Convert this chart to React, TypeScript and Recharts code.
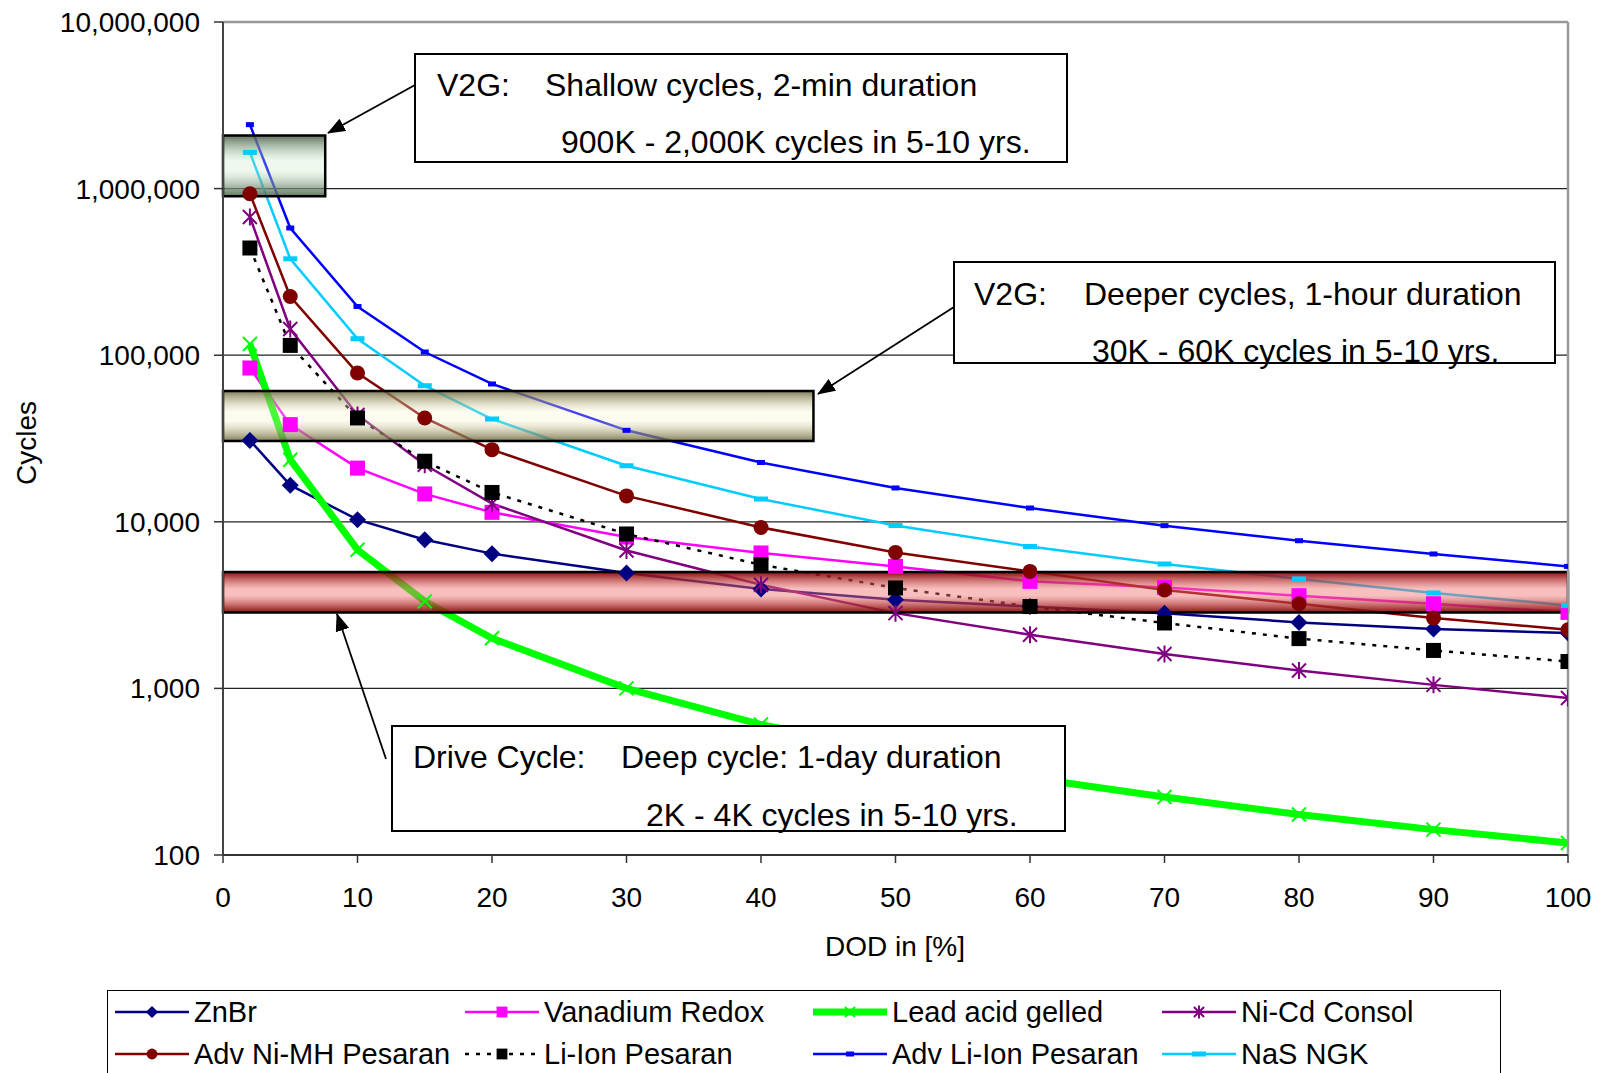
import React from 'react';
import { LineChart, Line, XAxis, YAxis, CartesianGrid, ReferenceArea } from 'recharts';

const FONT = '"Liberation Sans", Arial, Helvetica, sans-serif';

// depth of discharge in %
const dod = [2, 5, 10, 15, 20, 30, 40, 50, 60, 70, 80, 90, 100];

// cycles to end of life per DOD point
const znBr = [30800, 16600, 10300, 7800, 6440, 4930, 3950, 3410, 3100, 2830, 2490, 2270, 2150];
const vanadiumRedox = [83800, 38300, 21000, 14700, 11400, 8100, 6500, 5400, 4390, 4040, 3600, 3220, 2860];
const leadAcidGelled = [116700, 23600, 6800, 3330, 2000, 1000, 607, 420, 291, 223, 175, 142, 118];
const niCdConsol = [676000, 143600, 43800, 22000, 12850, 6730, 4190, 2830, 2100, 1610, 1280, 1050, 875];
const advNiMhPesaran = [931000, 225000, 78200, 42000, 27100, 14300, 9250, 6550, 5040, 3900, 3220, 2650, 2250];
const liIonPesaran = [440000, 114500, 42000, 23100, 15000, 8450, 5520, 4010, 3100, 2470, 1990, 1690, 1450];
const advLiIonPesaran = [2420000, 580000, 196000, 104500, 67200, 35400, 22700, 15960, 12100, 9480, 7700, 6410, 5400];
const nasNgk = [1650000, 379000, 125600, 65600, 41400, 21700, 13700, 9500, 7110, 5580, 4540, 3740, 3150];

const xTicks = [0, 10, 20, 30, 40, 50, 60, 70, 80, 90, 100];
const xMinorTicks = [2, 4, 6, 8, 12, 14, 16, 18, 22, 24, 26, 28, 32, 34, 36, 38, 42, 44, 46, 48,
  52, 54, 56, 58, 62, 64, 66, 68, 72, 74, 76, 78, 82, 84, 86, 88, 92, 94, 96, 98];
const yTicks = [100, 1000, 10000, 100000, 1000000, 10000000];
const yMinorTicks = [200, 300, 400, 500, 600, 700, 800, 900,
  2000, 3000, 4000, 5000, 6000, 7000, 8000, 9000,
  20000, 30000, 40000, 50000, 60000, 70000, 80000, 90000,
  200000, 300000, 400000, 500000, 600000, 700000, 800000, 900000,
  2000000, 3000000, 4000000, 5000000, 6000000, 7000000, 8000000, 9000000];

// shaded usage bands (DOD range, cycle range)
const bandIds = ['shallow', 'deeper', 'drive'];
const bandDod = [[0, 7.6], [0, 43.9], [0, 100]];
const bandCycles = [[900000, 2080000], [30500, 61000], [2850, 5000]];

const noteHeads = ['V2G:', 'V2G:', 'Drive Cycle:'];
const noteTitles = ['Shallow cycles, 2-min duration', 'Deeper cycles, 1-hour duration', 'Deep cycle: 1-day duration'];
const noteRanges = ['900K - 2,000K cycles in 5-10 yrs.', '30K - 60K cycles in 5-10 yrs.', '2K - 4K cycles in 5-10 yrs.'];

type MarkerKind = 'diamond' | 'square' | 'cross' | 'star' | 'circle' | 'dash' | 'bar';

interface SeriesDef {
  key: string;
  name: string;
  values: number[];
  color: string;
  width: number;
  dash?: string;
  marker: MarkerKind;
}

const series: SeriesDef[] = [
  { key: 'znBr', name: 'ZnBr', values: znBr, color: '#000080', width: 2.5, marker: 'diamond' },
  { key: 'vanadium', name: 'Vanadium Redox', values: vanadiumRedox, color: '#ff00ff', width: 2.5, marker: 'square' },
  { key: 'leadAcid', name: 'Lead acid gelled', values: leadAcidGelled, color: '#00ff00', width: 7, marker: 'cross' },
  { key: 'niCd', name: 'Ni-Cd Consol', values: niCdConsol, color: '#800080', width: 2.5, marker: 'star' },
  { key: 'niMh', name: 'Adv Ni-MH Pesaran', values: advNiMhPesaran, color: '#800000', width: 2.5, marker: 'circle' },
  { key: 'liIon', name: 'Li-Ion Pesaran', values: liIonPesaran, color: '#000000', width: 2.5, dash: '4 7', marker: 'square' },
  { key: 'advLiIon', name: 'Adv Li-Ion Pesaran', values: advLiIonPesaran, color: '#0000ff', width: 2.5, marker: 'dash' },
  { key: 'nas', name: 'NaS NGK', values: nasNgk, color: '#00ccff', width: 2.5, marker: 'bar' },
];

const rows = dod.map((d, i) => {
  const row: Record<string, number> = { dod: d };
  series.forEach(s => { row[s.key] = s.values[i]; });
  return row;
});

function Marker({ kind, color, cx, cy, small }: { kind: MarkerKind; color: string; cx: number; cy: number; small?: boolean }) {
  const k = small ? 0.72 : 1;
  switch (kind) {
    case 'diamond': {
      const r = 8.5 * k;
      return <polygon points={`${cx},${cy - r} ${cx + r},${cy} ${cx},${cy + r} ${cx - r},${cy}`} fill={color} />;
    }
    case 'square': {
      const r = 7.5 * k;
      return <rect x={cx - r} y={cy - r} width={2 * r} height={2 * r} fill={color} />;
    }
    case 'cross': {
      const r = 7 * k;
      return <path d={`M${cx - r},${cy - r}L${cx + r},${cy + r}M${cx - r},${cy + r}L${cx + r},${cy - r}`} stroke={color} strokeWidth={2} fill="none" />;
    }
    case 'star': {
      const r = 7 * k;
      return <path d={`M${cx - r},${cy - r}L${cx + r},${cy + r}M${cx - r},${cy + r}L${cx + r},${cy - r}M${cx},${cy - r - 1.5}L${cx},${cy + r + 1.5}`} stroke={color} strokeWidth={2} fill="none" />;
    }
    case 'circle':
      return <circle cx={cx} cy={cy} r={7.5 * k} fill={color} />;
    case 'dash':
      return <rect x={cx - 4} y={cy - 2.5} width={8} height={5} fill={color} />;
    case 'bar':
      return <rect x={cx - 7} y={cy - 2.5} width={14} height={5} fill={color} />;
  }
  return null;
}

const tickText = { fill: '#000', fontSize: 28, fontFamily: FONT };

// annotation layout (page pixels)
const noteBoxes = [
  { x: 415, y: 54, w: 652, h: 108, headX: 437, titleX: 545, rangeX: 561, y1: 85, y2: 142 },
  { x: 954, y: 262, w: 601, h: 101, headX: 974, titleX: 1084, rangeX: 1092, y1: 294, y2: 351 },
  { x: 392, y: 726, w: 673, h: 105, headX: 413, titleX: 621, rangeX: 646, y1: 757, y2: 815 },
];
const arrows = [
  { x1: 415, y1: 85, x2: 328, y2: 133 },
  { x1: 954, y1: 307, x2: 818, y2: 394 },
  { x1: 386, y1: 759, x2: 337, y2: 614 },
];

const legendCols = [115, 465, 813, 1162];
const legendRows = [1012, 1054];

export default function App() {
  return (
    <div style={{ position: 'absolute', left: 0, top: 0, width: 1603, height: 1073, overflow: 'hidden', background: '#fff', fontFamily: FONT }}>
      <LineChart width={1603} height={1073} data={rows} margin={{ top: 22, right: 35, bottom: 158, left: 0 }}>
        <defs>
          <linearGradient id="band-shallow" x1="0" y1="0" x2="0" y2="1">
            <stop offset="0" stopColor="#4f634f" stopOpacity={0.9} />
            <stop offset="0.42" stopColor="#c8e8c8" stopOpacity={0.3} />
            <stop offset="0.58" stopColor="#c8e8c8" stopOpacity={0.3} />
            <stop offset="1" stopColor="#4f634f" stopOpacity={0.9} />
          </linearGradient>
          <linearGradient id="band-deeper" x1="0" y1="0" x2="0" y2="1">
            <stop offset="0" stopColor="#6a6438" stopOpacity={0.85} />
            <stop offset="0.42" stopColor="#f6f2c8" stopOpacity={0.28} />
            <stop offset="0.58" stopColor="#f6f2c8" stopOpacity={0.28} />
            <stop offset="1" stopColor="#6a6438" stopOpacity={0.85} />
          </linearGradient>
          <linearGradient id="band-drive" x1="0" y1="0" x2="0" y2="1">
            <stop offset="0" stopColor="#800000" stopOpacity={0.95} />
            <stop offset="0.42" stopColor="#f07070" stopOpacity={0.45} />
            <stop offset="0.58" stopColor="#f07070" stopOpacity={0.45} />
            <stop offset="1" stopColor="#800000" stopOpacity={0.95} />
          </linearGradient>
        </defs>

        {/* mirrored helper axes first, so they do not shift the main axes */}
        <XAxis xAxisId="majorIn" dataKey="dod" type="number" domain={[0, 100]} allowDataOverflow ticks={xTicks}
          mirror height={0.001} tick={false} axisLine={false} tickSize={8} tickLine={{ stroke: '#333', strokeWidth: 1.5 }} />
        <XAxis xAxisId="minorIn" dataKey="dod" type="number" domain={[0, 100]} allowDataOverflow ticks={xMinorTicks}
          mirror height={0.001} tick={false} axisLine={false} tickSize={6} tickLine={{ stroke: '#333', strokeWidth: 1.5 }} />
        <XAxis xAxisId="top" orientation="top" dataKey="dod" type="number" domain={[0, 100]} allowDataOverflow
          mirror height={0.001} tick={false} tickLine={false} axisLine={{ stroke: '#999', strokeWidth: 2.5 }} />
        <YAxis yAxisId="minor" scale="log" domain={[100, 10000000]} allowDataOverflow ticks={yMinorTicks}
          mirror width={0.001} tick={false} axisLine={false} tickSize={8} tickLine={{ stroke: '#333', strokeWidth: 1.5 }} />
        <YAxis yAxisId="right" orientation="right" scale="log" domain={[100, 10000000]} allowDataOverflow
          mirror width={0.001} tick={false} tickLine={false} axisLine={{ stroke: '#999', strokeWidth: 2.5 }} />

        <CartesianGrid xAxisId="dod" yAxisId="cycles" vertical={false} stroke="#222" strokeWidth={1.2}
          horizontalValues={[1000, 10000, 100000, 1000000]} />

        <XAxis xAxisId="dod" dataKey="dod" type="number" domain={[0, 100]} allowDataOverflow ticks={xTicks}
          height={60} tickSize={8} tickMargin={24} tick={tickText}
          axisLine={{ stroke: '#333', strokeWidth: 2 }} tickLine={{ stroke: '#333', strokeWidth: 1.5 }} />
        <YAxis yAxisId="cycles" scale="log" domain={[100, 10000000]} allowDataOverflow ticks={yTicks}
          width={223} tickSize={9} tickMargin={14} tick={tickText}
          tickFormatter={(v: number) => v.toLocaleString('en-US')}
          axisLine={{ stroke: '#444', strokeWidth: 2 }} tickLine={{ stroke: '#333', strokeWidth: 1.5 }} />

        {series.map(s => (
          <Line
            key={s.key}
            xAxisId="dod"
            yAxisId="cycles"
            type="linear"
            dataKey={s.key}
            name={s.name}
            stroke={s.color}
            strokeWidth={s.width}
            strokeDasharray={s.dash}
            isAnimationActive={false}
            activeDot={false}
            dot={(p: any) => (
              <g key={`${s.key}-${p.index}`}>
                <Marker kind={s.marker} color={s.color} cx={p.cx} cy={p.cy} />
              </g>
            )}
          />
        ))}

        {bandIds.map((id, i) => (
          <ReferenceArea
            key={id}
            xAxisId="dod"
            yAxisId="cycles"
            x1={bandDod[i][0]}
            x2={bandDod[i][1]}
            y1={bandCycles[i][0]}
            y2={bandCycles[i][1]}
            fill={`url(#band-${id})`}
            fillOpacity={1}
            stroke="#000"
            strokeWidth={2.5}
            ifOverflow="visible"
            zIndex={450}
          />
        ))}
      </LineChart>

      {/* annotations, axis titles */}
      <svg width={1603} height={1073} style={{ position: 'absolute', left: 0, top: 0, pointerEvents: 'none' }}>
        <defs>
          <marker id="arrow-head" markerUnits="userSpaceOnUse" markerWidth={18} markerHeight={14} refX={17} refY={7} orient="auto">
            <path d="M0,0 L18,7 L0,14 z" fill="#000" />
          </marker>
        </defs>
        {noteBoxes.map((b, i) => (
          <g key={i} fontFamily={FONT} fontSize={32} fill="#000">
            <rect x={b.x} y={b.y} width={b.w} height={b.h} fill="#fff" stroke="#000" strokeWidth={2} />
            <text x={b.headX} y={b.y1} dominantBaseline="central">{noteHeads[i]}</text>
            <text x={b.titleX} y={b.y1} dominantBaseline="central">{noteTitles[i]}</text>
            <text x={b.rangeX} y={b.y2} dominantBaseline="central">{noteRanges[i]}</text>
          </g>
        ))}
        {arrows.map((a, i) => (
          <line key={i} x1={a.x1} y1={a.y1} x2={a.x2} y2={a.y2} stroke="#000" strokeWidth={1.8} markerEnd="url(#arrow-head)" />
        ))}
        <text x={0} y={0} transform="translate(26 443) rotate(-90)" textAnchor="middle" dominantBaseline="central"
          fontFamily={FONT} fontSize={28}>Cycles</text>
        <text x={895} y={946} textAnchor="middle" dominantBaseline="central" fontFamily={FONT} fontSize={28}>DOD in [%]</text>
      </svg>

      {/* legend */}
      <div style={{ position: 'absolute', left: 107, top: 990, width: 1394, height: 130, border: '1.5px solid #000', boxSizing: 'border-box' }} />
      {series.map((s, i) => {
        const left = legendCols[i % 4];
        const cy = legendRows[Math.floor(i / 4)];
        return (
          <div key={s.key} style={{ position: 'absolute', left, top: cy - 17, height: 34, display: 'flex', alignItems: 'center', whiteSpace: 'nowrap' }}>
            <svg width={74} height={24} style={{ display: 'block' }}>
              <line x1={0} y1={12} x2={74} y2={12} stroke={s.color} strokeWidth={s.width} strokeDasharray={s.dash} />
              <Marker kind={s.marker} color={s.color} cx={37} cy={12} small />
            </svg>
            <span style={{ marginLeft: 5, fontSize: 29, color: '#000', lineHeight: '34px' }}>{s.name}</span>
          </div>
        );
      })}
    </div>
  );
}
